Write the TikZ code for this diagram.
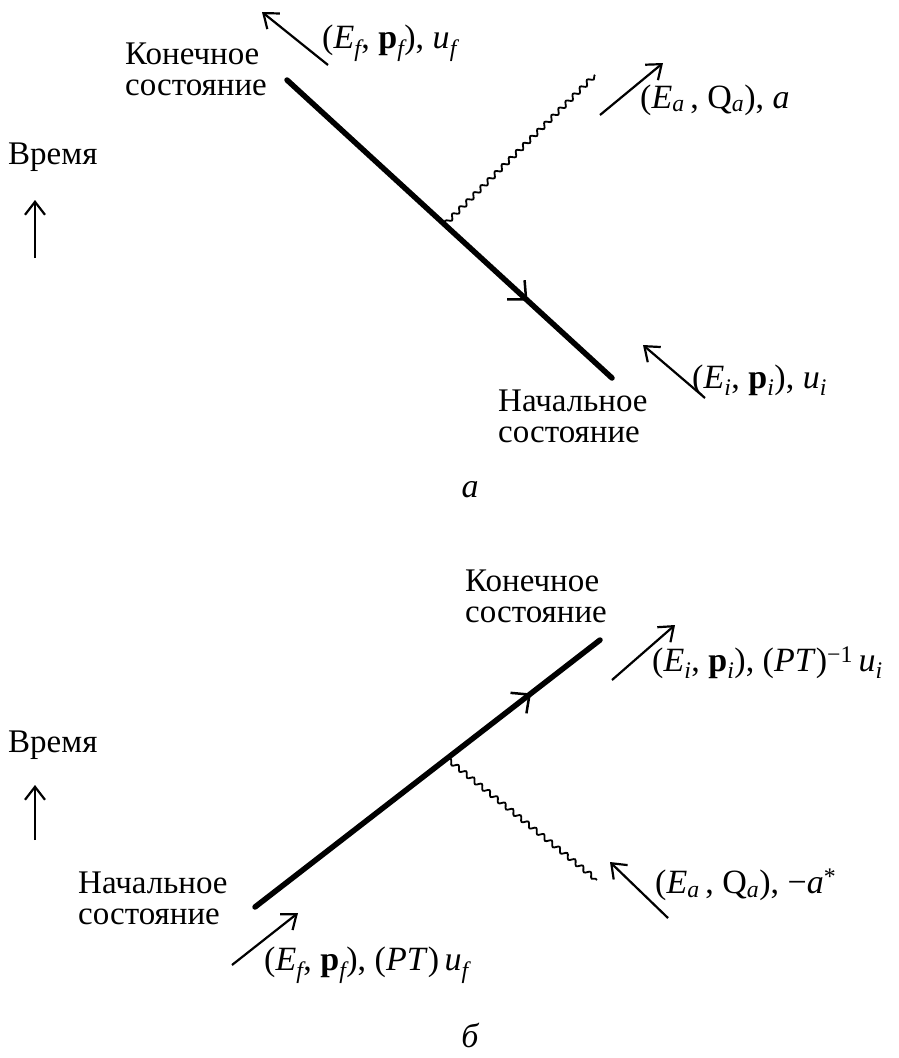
\documentclass[tikz,border=0pt]{standalone}
\usepackage{fontspec}
\setmainfont{Liberation Serif}
\usetikzlibrary{arrows.meta,calc,decorations.pathmorphing,decorations.markings}
\newcommand\lsub[1]{\textsubscript{\itshape #1}}
\begin{document}
\begin{tikzpicture}[x=1pt,y=-1pt,
  txt/.style={font=\fontsize{33}{31}\selectfont, align=left, inner sep=0pt, anchor=west},
  lbl/.style={font=\fontsize{34}{36}\selectfont, inner sep=0pt, anchor=west},
  fermion/.style={line width=5.5pt, line cap=round, postaction={decorate},
    decoration={markings, mark=at position #1 with {\arrow{Straight Barb[length=14pt,width=26pt,line width=2.5pt]}}}},
  photon/.style={line width=1.8pt, decorate, decoration={snake, segment length=10pt, amplitude=2.3pt}},
  mom/.style={line width=2.2pt, -{Straight Barb[length=13pt,width=20pt,line width=2.2pt]}},
  timearrow/.style={line width=2.2pt, -{Straight Barb[length=13pt,width=20pt,line width=2.2pt]}}]
\useasboundingbox (0,0) rectangle (899,1058);

% ---------------- diagram a ----------------
\coordinate (af) at (287,80);
\coordinate (ai) at (612,378);
\coordinate (av) at ($(af)!0.485!(ai)$);
\coordinate (aw) at (595,75);
\draw[fermion=0.74] (af) -- (ai);
\draw[photon] (av) -- (aw);

\node[txt] (afin) at (125,69) {Конечное\\состояние};
\coordinate (mf1) at (328,65); \coordinate (mf2) at (262,12);
\draw[mom] (mf1) -- (mf2);
\node[lbl] (lf) at (322,43) {(\textit{E}\lsub{f}, \textbf{p}\lsub{f}), \textit{u}\lsub{f}};

\coordinate (ma1) at (600,115); \coordinate (ma2) at (663,63);
\draw[mom] (ma1) -- (ma2);
\node[lbl] (la) at (640,100) {(\textit{E}\lsub{a}\,, Q\lsub{a}), \textit{a}};

\node[txt] (t1) at (8,157) {Время};
\coordinate (t1a) at (35,258); \coordinate (t1b) at (35,200);
\draw[timearrow] (t1a) -- (t1b);

\coordinate (mi1) at (705,398); \coordinate (mi2) at (643,345);
\draw[mom] (mi1) -- (mi2);
\node[lbl] (li) at (692,380) {(\textit{E}\lsub{i}, \textbf{p}\lsub{i}), \textit{u}\lsub{i}};

\node[txt] (aini) at (498,416) {Начальное\\состояние};
\node[font=\fontsize{34}{36}\selectfont\itshape, inner sep=0pt] (capa) at (470,490) {a};

% ---------------- diagram b ----------------
\coordinate (bi) at (255,907);
\coordinate (bf) at (600,640);
\coordinate (bv) at ($(bi)!0.556!(bf)$);
\coordinate (bw) at (597,880);
\draw[fermion=0.8] (bi) -- (bf);
\draw[photon] (bv) -- (bw);

\node[txt] (bfin) at (465,596) {Конечное\\состояние};
\coordinate (nb1) at (612,680); \coordinate (nb2) at (675,625);
\draw[mom] (nb1) -- (nb2);
\node[lbl] (lbi) at (652,663) {(\textit{E}\lsub{i}, \textbf{p}\lsub{i}), (\textit{PT})\textsuperscript{−1}\,\textit{u}\lsub{i}};

\node[txt] (t2) at (8,745) {Время};
\coordinate (t2a) at (35,840); \coordinate (t2b) at (35,785);
\draw[timearrow] (t2a) -- (t2b);

\coordinate (nq1) at (668,918); \coordinate (nq2) at (610,862);
\draw[mom] (nq1) -- (nq2);
\node[lbl] (lbq) at (655,885) {(\textit{E}\lsub{a}\,, Q\lsub{a}), −\textit{a}\textsuperscript{*}};

\node[txt] (bini) at (78,898) {Начальное\\состояние};
\coordinate (nf1) at (232,965); \coordinate (nf2) at (298,913);
\draw[mom] (nf1) -- (nf2);
\node[lbl] (lbf) at (264,965) {(\textit{E}\lsub{f}, \textbf{p}\lsub{f}), (\textit{PT})\,\textit{u}\lsub{f}};

\node[font=\fontsize{34}{36}\selectfont\itshape, inner sep=0pt] (capb) at (470,1035) {б};
\end{tikzpicture}
\end{document}
